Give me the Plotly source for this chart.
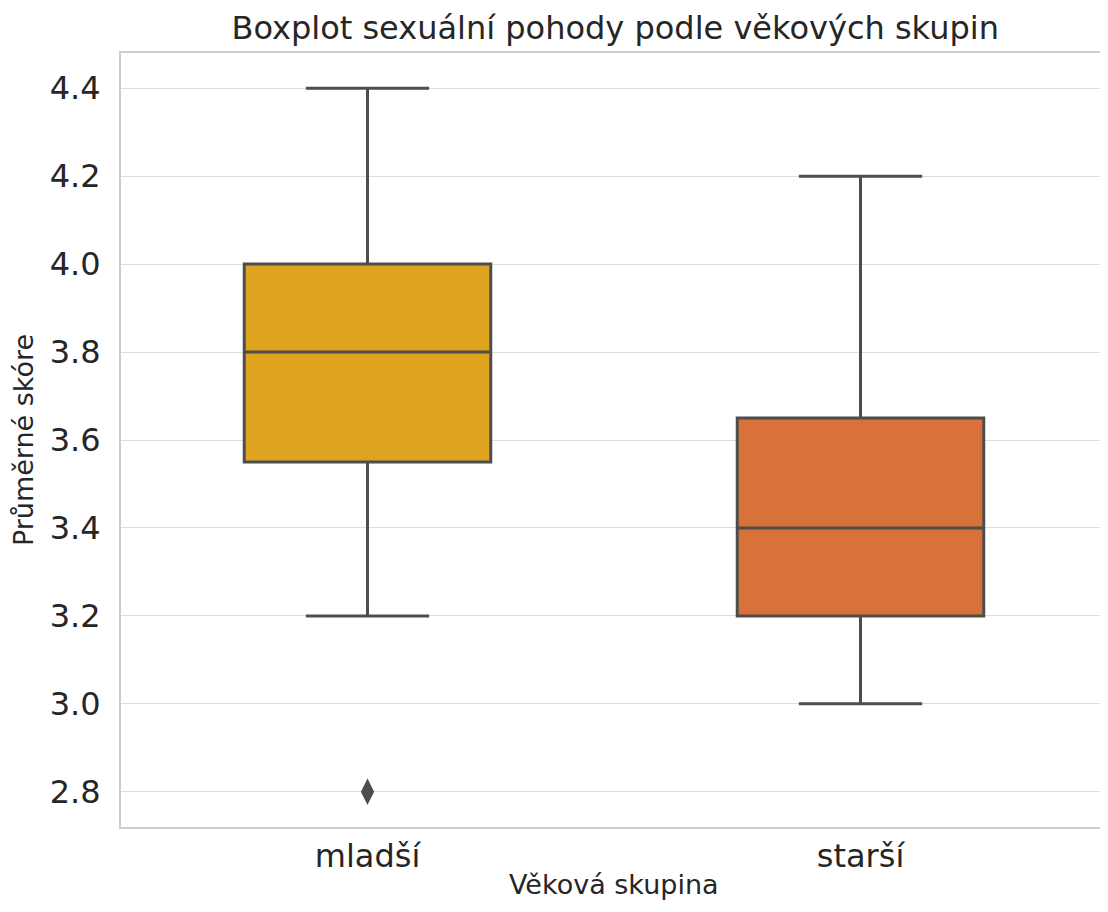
import plotly.graph_objects as go

categories = ["mladší", "starší"]
q1 = [3.55, 3.2]
median = [3.8, 3.4]
q3 = [4.0, 3.65]
lower_fence = [3.2, 3.0]
upper_fence = [4.4, 4.2]
outlier_cat = ["mladší"]
outlier_val = [2.8]
colors = ["#DFA41F", "#D9713A"]
y_ticks = [2.8, 3.0, 3.2, 3.4, 3.6, 3.8, 4.0, 4.2, 4.4]

fig = go.Figure()
for i, c in enumerate(categories):
    fig.add_trace(go.Box(
        x=[c], q1=[q1[i]], median=[median[i]], q3=[q3[i]],
        lowerfence=[lower_fence[i]], upperfence=[upper_fence[i]],
        fillcolor=colors[i], line=dict(color="#4D4D4D", width=3),
        width=0.5, whiskerwidth=0.5, boxpoints=False, showlegend=False,
    ))
fig.add_trace(go.Scatter(
    x=outlier_cat, y=outlier_val, mode="markers",
    marker=dict(symbol="diamond-tall", size=19, color="#4D4D4D"),
    showlegend=False,
))

fig.add_annotation(
    text="Věková skupina", xref="paper", yref="paper", x=0.5, y=-0.0975,
    xanchor="center", yanchor="bottom", showarrow=False,
    font=dict(size=27, color="#262626"),
)

fig.update_layout(
    width=1100, height=896,
    margin=dict(l=113, r=1, t=45, b=77, autoexpand=False),
    paper_bgcolor="white", plot_bgcolor="white",
    font=dict(family="DejaVu Sans", color="#262626"),
    title=dict(text="Boxplot sexuální pohody podle věkových skupin",
               x=0.552, xanchor="center", y=0.978, yanchor="middle",
               font=dict(size=32, color="#262626")),
    xaxis=dict(
        type="category", categoryorder="array", categoryarray=categories,
        range=[-0.5, 1.5], showgrid=False, showline=True, mirror=True,
        linecolor="#CCCCCC", linewidth=2, ticks="",
        automargin=False,
        tickfont=dict(size=32, color="#262626"),
    ),
    yaxis=dict(
        range=[2.72, 4.48], tickvals=y_ticks, ticktext=[f"{v:.1f}" for v in y_ticks],
        showgrid=True, gridcolor="#DDDDDD", gridwidth=1, zeroline=False,
        showline=True, mirror=True, linecolor="#CCCCCC", linewidth=2, ticks="",
        ticklabelstandoff=12, automargin=False,
        tickfont=dict(size=32, color="#262626"),
        title=dict(text="Průměrné skóre", font=dict(size=27, color="#262626"), standoff=8),
    ),
)

fig.write_html("out.html")
